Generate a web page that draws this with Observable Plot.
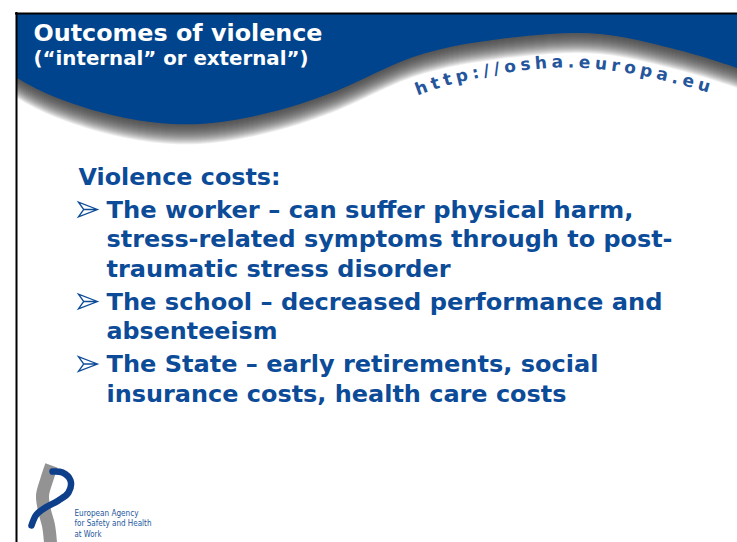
<!DOCTYPE html>
<html><head><meta charset="utf-8">
<script src="https://cdn.jsdelivr.net/npm/d3@7"></script>
<script src="https://cdn.jsdelivr.net/npm/@observablehq/plot@0.6"></script>
<style>html,body{margin:0;padding:0;background:#fff;overflow:hidden} #chart svg{display:block}</style>
</head><body><div id="chart"></div>
<script>
// ---------- content ----------
const title = "Outcomes of violence";
const subtitle = "(“internal” or external”)";
const url = "http://osha.europa.eu";
const heading = "Violence costs:";
const bulletLines = [
  ["The worker – can suffer physical harm,", "stress-related symptoms through to post-", "traumatic stress disorder"],
  ["The school – decreased performance and", "absenteeism"],
  ["The State – early retirements, social", "insurance costs, health care costs"]
];
const logoLines = ["European Agency", "for Safety and Health", "at Work"];

// ---------- shapes (page pixel units) ----------
const waveX = [17, 50, 100, 150, 200, 250, 300, 350, 400, 450, 500, 550, 600, 650, 700, 737];
const waveY = [78, 95, 112, 122, 124, 117, 104, 85, 62, 47, 39, 34, 34, 43, 56, 68];
const urlCurveX = [417, 450, 490, 530, 570, 610, 650, 690, 708];
const urlCurveY = [95, 84, 75, 69, 67, 70, 77, 87, 92];
const ribbonX = [51, 46, 42, 44, 48, 50];
const ribbonY = [465, 480, 495, 510, 525, 542];
const swooshX = [52, 62, 70, 68, 58, 45, 36, 31];
const swooshY = [471, 472, 480, 492, 500, 507, 514, 525];

// ---------- layout ----------
const W = 737, H = 542;
const BAND = "#00448e", TEXT = "#0c4b98", URLC = "#25569c";
const bandTop = 14;
const fam = "Verdana, 'DejaVu Sans', sans-serif";
const narrow = "'Liberation Sans Narrow', 'DejaVu Sans Condensed', 'Liberation Sans', sans-serif";
const textX = 106, headX = 78, arrowX = 87.5;
const headBase = 184, firstBase = 217, lineStep = 29.5, itemGap = 33;

const rows = [], arrows = [];
let yb = firstBase;
bulletLines.forEach((lines, i) => {
  if (i > 0) yb += itemGap - lineStep;
  arrows.push({y: yb - 8});
  lines.forEach(t => { rows.push({text: t, y: yb}); yb += lineStep; });
});

const fitWidths = new Map([
  [title, 289], [subtitle, 275], [heading, 202],
  [bulletLines[0][0], 527], [bulletLines[0][1], 566], [bulletLines[0][2], 344],
  [bulletLines[1][0], 556], [bulletLines[1][1], 171],
  [bulletLines[2][0], 492], [bulletLines[2][1], 460],
  [logoLines[0], 64], [logoLines[1], 77], [logoLines[2], 27]
]);

const wave = waveX.map((x, i) => ({x, y: waveY[i]}));
const ribbon = ribbonX.map((x, i) => ({x, y: ribbonY[i]}));
const swoosh = swooshX.map((x, i) => ({x, y: swooshY[i]}));

function layoutAlong(str, xs, ys, font) {
  const d = d3.line().curve(d3.curveNatural)(xs.map((x, i) => [x, ys[i]]));
  const ns = "http://www.w3.org/2000/svg";
  const tmp = document.createElementNS(ns, "svg");
  const path = document.createElementNS(ns, "path");
  path.setAttribute("d", d); tmp.appendChild(path); document.body.appendChild(tmp);
  const L = path.getTotalLength();
  const ctx = document.createElement("canvas").getContext("2d"); ctx.font = font;
  const chars = [...str];
  const w = chars.map(c => ctx.measureText(c).width);
  const sp = (L - d3.sum(w)) / (w.length - 1);
  let s = 0; const out = [];
  chars.forEach((ch, i) => {
    const c = s + w[i] / 2;
    const p = path.getPointAtLength(c);
    const a = path.getPointAtLength(Math.max(0, c - 2)), b = path.getPointAtLength(Math.min(L, c + 2));
    out.push({ch, x: p.x, y: p.y, angle: Math.atan2(b.y - a.y, b.x - a.x) * 180 / Math.PI});
    s += w[i] + sp;
  });
  tmp.remove();
  return out;
}
const urlChars = layoutAlong(url, urlCurveX, urlCurveY, "bold 17px 'DejaVu Sans'");

const arrowSymbol = {
  draw(ctx, size) {
    const r = Math.sqrt(size / Math.PI) / 8;
    ctx.moveTo(9 * r, 0); ctx.lineTo(-9 * r, -7 * r); ctx.lineTo(-4 * r, 0); ctx.lineTo(-9 * r, 7 * r); ctx.closePath();
    ctx.moveTo(-4 * r, 0); ctx.lineTo(9 * r, 0);
  }
};

const shadowLayers = d3.range(1, 21).map(k =>
  Plot.areaY(wave, {x: "x", y1: bandTop, y2: "y", dy: k, fill: "#363636", fillOpacity: 0.085, curve: "natural"})
);

const plot = Plot.plot({
  width: W, height: H,
  margin: 0,
  x: {domain: [0, W], range: [0, W], axis: null},
  y: {domain: [0, H], range: [0, H], axis: null},
  style: {background: "white"},
  marks: [
    ...shadowLayers,
    Plot.areaY(wave, {x: "x", y1: bandTop, y2: "y", fill: BAND, curve: "natural"}),
    Plot.text([title], {x: 33, y: 40, text: d => d, fill: "white", fontSize: 23, fontWeight: "bold", fontFamily: fam, textAnchor: "start", lineAnchor: "bottom"}),
    Plot.text([subtitle], {x: 33, y: 64, text: d => d, fill: "white", fontSize: 19, fontWeight: "bold", fontFamily: fam, textAnchor: "start", lineAnchor: "bottom"}),
    Plot.text(urlChars, {x: "x", y: "y", text: "ch", rotate: "angle", fill: URLC, fontSize: 17, fontWeight: "bold", fontFamily: "'DejaVu Sans'", textAnchor: "middle", lineAnchor: "bottom"}),
    Plot.text([heading], {x: headX, y: headBase, text: d => d, fill: TEXT, fontSize: 22.5, fontWeight: "bold", fontFamily: fam, textAnchor: "start", lineAnchor: "bottom"}),
    Plot.text(rows, {x: textX, y: "y", text: "text", fill: TEXT, fontSize: 22.5, fontWeight: "bold", fontFamily: fam, textAnchor: "start", lineAnchor: "bottom"}),
    Plot.dot(arrows, {x: arrowX, y: "y", r: 8.5, symbol: arrowSymbol, stroke: TEXT, fill: "white", strokeWidth: 1.3}),
    Plot.line(ribbon, {x: "x", y: "y", stroke: "#939393", strokeWidth: 13, curve: "catmull-rom", strokeLinecap: "butt"}),
    Plot.line(swoosh, {x: "x", y: "y", stroke: "#0d3f8a", strokeWidth: 6.5, curve: "catmull-rom", strokeLinecap: "round"}),
    Plot.text(logoLines, {x: 74, y: (d, i) => 515 + i * 10.5, text: d => d, fill: "#24579c", fontSize: 8.5, fontFamily: narrow, textAnchor: "start", lineAnchor: "bottom"}),
    Plot.ruleX([16], {y1: 12, y2: H, stroke: "black", strokeWidth: 2}),
    Plot.ruleY([13], {x1: 15, x2: W, stroke: "black", strokeWidth: 2})
  ]
});

d3.select(plot).selectAll("text").each(function () {
  const w = fitWidths.get(this.textContent);
  if (w) { this.setAttribute("textLength", w); this.setAttribute("lengthAdjust", "spacingAndGlyphs"); }
});
document.getElementById("chart").appendChild(plot);
</script>
</body></html>
